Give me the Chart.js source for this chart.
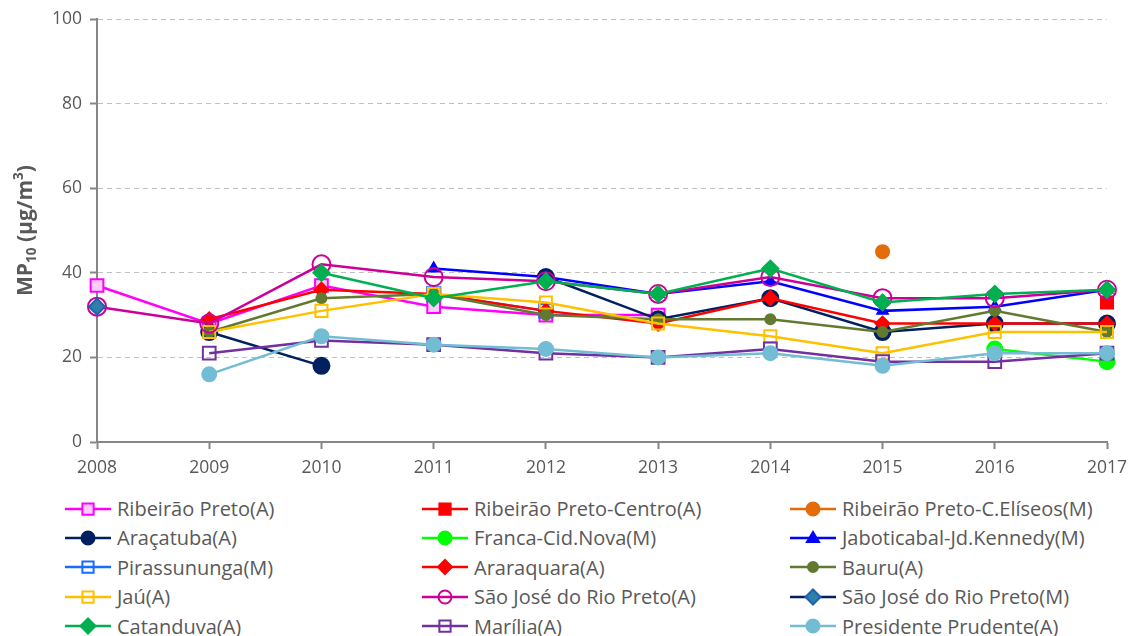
<!DOCTYPE html>
<html>
<head>
<meta charset="utf-8">
<script src="https://cdn.jsdelivr.net/npm/chart.js@4"></script>
<style>
  body { margin: 0; background: #fff; font-family: 'Open Sans', sans-serif; }
  #wrap { position: relative; width: 1131px; height: 480px; }
  #legend { position: absolute; top: 494px; left: 0; width: 1131px; }
  .item { position: absolute; display: flex; align-items: center; height: 29px; color: #595959; font-size: 20px; white-space: nowrap; }
  .item canvas { margin-right: 6px; }
</style>
</head>
<body>
<div id="wrap"><canvas id="chart"></canvas></div>
<div id="legend"></div>
<script>
// years on the x axis
const years = ['2008', '2009', '2010', '2011', '2012', '2013', '2014', '2015', '2016', '2017'];

// MP10 annual means per station (µg/m³)
const ribeiraoPreto = [37, 28, 37, 32, 30, 30, null, null, null, null];
const ribeiraoCentro = [null, null, null, null, null, null, null, null, null, 33];
const ribeiraoEliseos = [null, null, null, null, null, null, null, 45, null, null];
const aracatuba = [null, 26, 18, null, 39, 29, 34, 26, 28, 28];
const franca = [null, null, null, null, null, null, null, null, 22, 19];
const jaboticabal = [null, null, null, 41, 39, 35, 38, 31, 32, 36];
const pirassununga = [null, null, null, 35, 31, null, null, null, null, null];
const araraquara = [null, 29, 36, 35, 31, 28, 34, 28, 28, 28];
const bauru = [null, 26, 34, 35, 30, 29, 29, 26, 31, 26];
const jau = [null, 26, 31, 35, 33, 28, 25, 21, 26, 26];
const saoJoseA = [32, 28, 42, 39, 38, 35, 39, 34, 34, 36];
const saoJoseM = [32, null, null, null, null, null, null, null, null, null];
const catanduva = [null, null, 40, 34, 38, 35, 41, 33, 35, 36];
const marilia = [null, 21, 24, 23, 21, 20, 22, 19, 19, 21];
const prudente = [null, 16, 25, 23, 22, 20, 21, 18, 21, 21];

const yTicks = [0, 20, 40, 60, 80, 100];

const series = [
  { label: 'Ribeirão Preto(A)', data: ribeiraoPreto, color: '#FF00FF', fill: '#FFCCFF', style: 'rect', r: 9 },
  { label: 'Ribeirão Preto-Centro(A)', data: ribeiraoCentro, color: '#FF0000', fill: '#FF0000', style: 'rect', r: 8.5 },
  { label: 'Ribeirão Preto-C.Elíseos(M)', data: ribeiraoEliseos, color: '#E46C0A', fill: '#E46C0A', style: 'circle', r: 6.5 },
  { label: 'Araçatuba(A)', data: aracatuba, color: '#002060', fill: '#002060', style: 'circle', r: 8 },
  { label: 'Franca-Cid.Nova(M)', data: franca, color: '#00FF00', fill: '#00FF00', style: 'circle', r: 7.5 },
  { label: 'Jaboticabal-Jd.Kennedy(M)', data: jaboticabal, color: '#0000FF', fill: '#0000FF', style: 'triangle', r: 6 },
  { label: 'Pirassununga(M)', data: pirassununga, color: '#1A6BFF', fill: 'rgba(0,0,0,0)', style: 'rect', r: 9.5 },
  { label: 'Araraquara(A)', data: araraquara, color: '#FF0000', fill: '#FF0000', style: 'rectRot', r: 7 },
  { label: 'Bauru(A)', data: bauru, color: '#617A30', fill: '#617A30', style: 'circle', r: 5 },
  { label: 'Jaú(A)', data: jau, color: '#FFC000', fill: 'rgba(0,0,0,0)', style: 'rect', r: 8.5 },
  { label: 'São José do Rio Preto(A)', data: saoJoseA, color: '#CC0099', fill: 'rgba(0,0,0,0)', style: 'circle', r: 9 },
  { label: 'São José do Rio Preto(M)', data: saoJoseM, color: '#002060', fill: '#2E80A8', border: '#1F60B0', style: 'rectRot', r: 8 },
  { label: 'Catanduva(A)', data: catanduva, color: '#00B050', fill: '#00B050', style: 'rectRot', r: 8 },
  { label: 'Marília(A)', data: marilia, color: '#7030A0', fill: 'rgba(0,0,0,0)', style: 'rect', r: 9 },
  { label: 'Presidente Prudente(A)', data: prudente, color: '#72BCD4', fill: '#72BCD4', style: 'circle', r: 7 }
];

const n = series.length;
const datasets = series.map((s, i) => ({
  label: s.label,
  data: s.data,
  borderColor: s.color,
  borderWidth: 2.5,
  pointStyle: s.style,
  pointRadius: s.r,
  pointHoverRadius: s.r,
  pointBackgroundColor: s.fill,
  pointBorderColor: s.border || s.color,
  pointBorderWidth: 2,
  spanGaps: false,
  tension: 0,
  order: n - i
}));

// y axis title with subscript and superscript
const yTitle = {
  id: 'yTitle',
  afterDraw(chart) {
    const ctx = chart.ctx;
    const area = chart.chartArea;
    const parts = [
      { t: 'MP', size: 21, dy: 0 },
      { t: '10', size: 13.5, dy: 6 },
      { t: ' (µg/m', size: 21, dy: 0 },
      { t: '3', size: 13.5, dy: -7 },
      { t: ')', size: 21, dy: 0 }
    ];
    ctx.save();
    let total = 0;
    parts.forEach(p => {
      ctx.font = 'bold ' + p.size + 'px "Open Sans"';
      p.w = ctx.measureText(p.t).width;
      total += p.w;
    });
    ctx.translate(26, (area.top + area.bottom) / 2);
    ctx.rotate(-Math.PI / 2);
    ctx.fillStyle = '#595959';
    ctx.textBaseline = 'middle';
    let x = -total / 2;
    parts.forEach(p => {
      ctx.font = 'bold ' + p.size + 'px "Open Sans"';
      ctx.fillText(p.t, x, p.dy);
      x += p.w;
    });
    ctx.restore();
  }
};

const canvas = document.getElementById('chart');
canvas.width = 1131;
canvas.height = 480;

new Chart(canvas, {
  type: 'line',
  data: { labels: years, datasets: datasets },
  options: {
    responsive: false,
    animation: false,
    layout: { padding: { top: 19, right: 24, left: 0, bottom: 0 } },
    plugins: { legend: { display: false }, tooltip: { enabled: false } },
    scales: {
      x: {
        offset: false,
        grid: { drawOnChartArea: false, drawTicks: true, tickLength: 7, tickColor: '#868686', tickWidth: 2 },
        border: { color: '#868686', width: 2 },
        ticks: { color: '#595959', font: { family: 'Open Sans', size: 17.5 }, padding: 9, maxRotation: 0, autoSkip: false },
        afterFit: scale => {
          scale.height = 480 - 442;
          scale.paddingRight = 0;
          scale.paddingLeft = 0;
        }
      },
      y: {
        min: 0,
        max: 100,
        afterBuildTicks: scale => { scale.ticks = yTicks.map(v => ({ value: v })); },
        grid: { color: '#C0C0C0', lineWidth: 1, drawTicks: true, tickLength: 7, tickColor: '#868686', tickWidth: 2, tickBorderDash: [] },
        border: { color: '#868686', width: 2, dash: [5, 4] },
        ticks: { color: '#595959', font: { family: 'Open Sans', size: 17.5 }, padding: 8 },
        afterFit: scale => { scale.width = 97; }
      }
    }
  },
  plugins: [yTitle]
});

// legend built from the same series list
const legend = document.getElementById('legend');
const colX = [65, 422, 790];
series.forEach((s, i) => {
  const item = document.createElement('div');
  item.className = 'item';
  item.style.left = colX[i % 3] + 'px';
  item.style.top = (Math.floor(i / 3) * 29.4) + 'px';
  const icon = document.createElement('canvas');
  icon.width = 46;
  icon.height = 20;
  const c = icon.getContext('2d');
  c.strokeStyle = s.color;
  c.lineWidth = 2.5;
  c.beginPath();
  c.moveTo(0, 10);
  c.lineTo(46, 10);
  c.stroke();
  c.lineWidth = 2;
  c.fillStyle = s.fill;
  c.strokeStyle = s.border || s.color;
  const r = Math.min(s.r, 7.5);
  c.beginPath();
  if (s.style === 'rect') {
    c.rect(23 - r * 0.75, 10 - r * 0.75, r * 1.5, r * 1.5);
  } else if (s.style === 'circle') {
    c.arc(23, 10, s.r > 8 ? 6.5 : Math.min(s.r, 6.5), 0, Math.PI * 2);
  } else if (s.style === 'rectRot') {
    c.moveTo(23 - r, 10); c.lineTo(23, 10 - r); c.lineTo(23 + r, 10); c.lineTo(23, 10 + r); c.closePath();
  } else if (s.style === 'triangle') {
    c.moveTo(23, 4); c.lineTo(29, 14); c.lineTo(17, 14); c.closePath();
  }
  c.fill();
  c.stroke();
  item.appendChild(icon);
  const span = document.createElement('span');
  span.textContent = s.label;
  item.appendChild(span);
  legend.appendChild(item);
});
</script>
</body>
</html>
